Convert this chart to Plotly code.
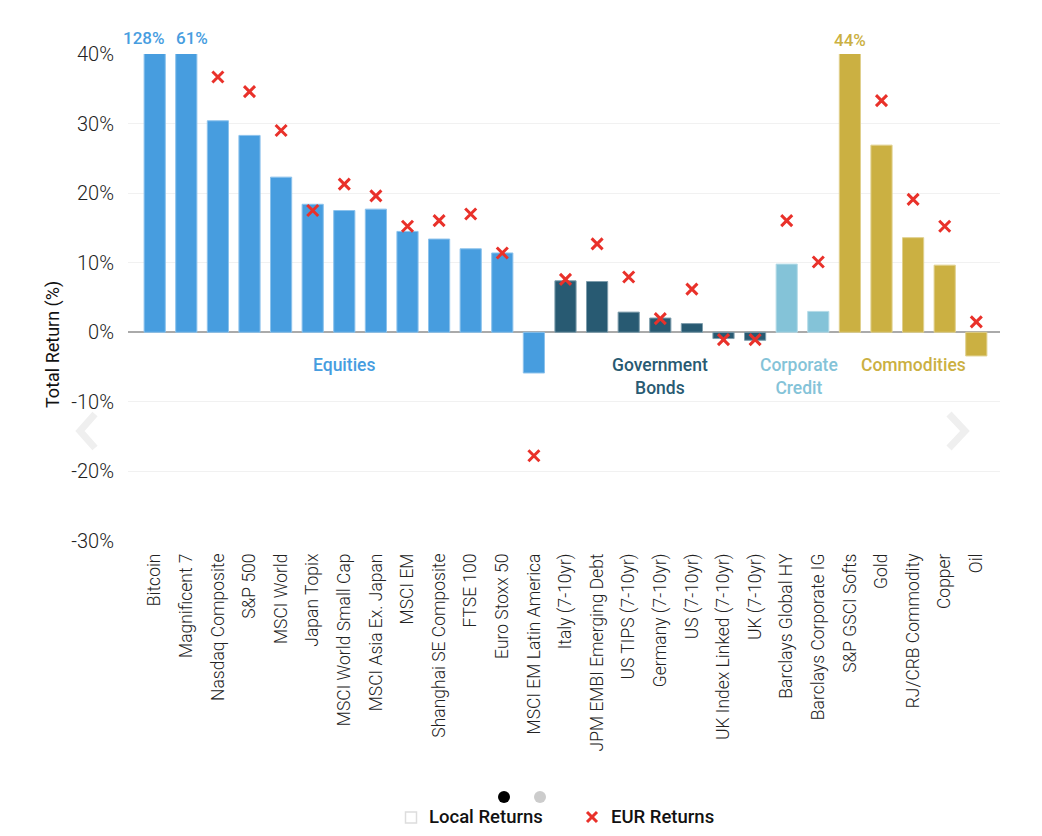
import plotly.graph_objects as go

categories = ["Bitcoin", "Magnificent 7", "Nasdaq Composite", "S&P 500", "MSCI World", "Japan Topix",
              "MSCI World Small Cap", "MSCI Asia Ex. Japan", "MSCI EM", "Shanghai SE Composite", "FTSE 100",
              "Euro Stoxx 50", "MSCI EM Latin America", "Italy (7-10yr)", "JPM EMBI Emerging Debt",
              "US TIPS (7-10yr)", "Germany (7-10yr)", "US (7-10yr)", "UK Index Linked (7-10yr)", "UK (7-10yr)",
              "Barclays Global HY", "Barclays Corporate IG", "S&P GSCI Softs", "Gold", "RJ/CRB Commodity",
              "Copper", "Oil"]
local_returns = [128, 61, 30.4, 28.3, 22.3, 18.4, 17.5, 17.7, 14.5, 13.4, 12.0, 11.4, -5.85,
                 7.4, 7.3, 2.9, 2.05, 1.25, -0.9, -1.15, 9.8, 3.0, 44, 26.9, 13.6, 9.65, -3.4]
eur_returns = [None, None, 36.7, 34.6, 29.0, 17.5, 21.3, 19.6, 15.25, 16.05, 17.0, 11.4, -17.75,
               7.6, 12.7, 7.95, 1.97, 6.2, -1.05, -1.05, 16.05, 10.1, None, 33.3, 19.1, 15.25, 1.5]
groups = ["eq"] * 13 + ["gov"] * 7 + ["corp"] * 2 + ["com"] * 5
group_colors = {"eq": "#479ddf", "gov": "#285a72", "corp": "#84c3d8", "com": "#cbb042"}
group_borders = {"eq": "#8cc2ec", "gov": "#7e9dac", "corp": "#b5dbe7", "com": "#e0d08e"}
y_ticks = [-30, -20, -10, 0, 10, 20, 30, 40]
y_tick_labels = ["-30%", "-20%", "-10%", "0%", "10%", "20%", "30%", "40%"]
overflow_shift = {0: -11, 1: 6, 22: 0}
overflow_lift = {0: 4, 1: 4, 22: 2}

FONT = "Roboto, sans-serif"
L, R, T, B = 128, 1000, 54, 541
W, H = 1042, 836
px = lambda x: (x - L) / (R - L)
py = lambda y: (B - y) / (B - T)

fig = go.Figure()
fig.add_bar(x=categories, y=local_returns, width=0.67, showlegend=False, hoverinfo="x+y",
            marker=dict(color=[group_colors[g] for g in groups],
                        line=dict(color=[group_borders[g] for g in groups], width=1)))
fig.add_scatter(x=categories, y=eur_returns, mode="markers", name="EUR Returns", showlegend=False,
                marker=dict(symbol="x-thin", size=11, line=dict(color="#e9312a", width=3), color="#e9312a"))

annotations = []
for i, v in enumerate(local_returns):
    if v > 40:
        annotations.append(dict(x=categories[i], y=40, text=f"{v}%", showarrow=False, yanchor="bottom",
                                yshift=overflow_lift[i], xshift=overflow_shift[i],
                                font=dict(family=FONT, size=17, color=group_colors[groups[i]], weight=500)))
for xv, lbl, g in [(6, "Equities", "eq"), (16, "Government<br>Bonds", "gov"),
                   (20.4, "Corporate<br>Credit", "corp"), (24, "Commodities", "com")]:
    annotations.append(dict(x=xv, y=-3.0, text=lbl, showarrow=False, yanchor="top", xanchor="center", align="center",
                            font=dict(family=FONT, size=17.5, color=group_colors[g], weight=500)))
annotations.append(dict(xref="paper", yref="paper", x=px(53), y=py(345), text="Total Return (%)", textangle=-90,
                        showarrow=False, xanchor="center", yanchor="middle",
                        font=dict(family=FONT, size=18, color="#111")))
annotations.append(dict(xref="paper", yref="paper", x=px(426.5), y=py(817), text="Local Returns", xanchor="left",
                        yanchor="middle", showarrow=False,
                        font=dict(family=FONT, size=18.5, color="#111", weight=500)))
annotations.append(dict(xref="paper", yref="paper", x=px(608.5), y=py(817), text="EUR Returns", xanchor="left",
                        yanchor="middle", showarrow=False,
                        font=dict(family=FONT, size=18.5, color="#111", weight=500)))


def chevron(x0, x1, ym=431, dy=17):
    return dict(type="path", xref="paper", yref="paper",
                path=f"M {px(x0)} {py(ym - dy)} L {px(x1)} {py(ym)} L {px(x0)} {py(ym + dy)}",
                line=dict(color="#efefef", width=7))


def circle(cx, cy, r, color):
    return dict(type="circle", xref="paper", yref="paper", x0=px(cx - r), x1=px(cx + r), y0=py(cy + r), y1=py(cy - r),
                fillcolor=color, line=dict(width=0))


def stroke(x0, y0, x1, y1):
    return dict(type="line", xref="paper", yref="paper", x0=px(x0), x1=px(x1), y0=py(y0), y1=py(y1),
                line=dict(color="#e9312a", width=3))


shapes = [chevron(95, 80), chevron(949, 965),
          circle(504, 797, 6, "#000000"), circle(540, 797, 6, "#cccccc"),
          dict(type="rect", xref="paper", yref="paper", x0=px(405.5), x1=px(416.5), y0=py(823), y1=py(812),
               line=dict(color="#dddddd", width=1.5), fillcolor="white"),
          stroke(587, 812, 597, 822), stroke(587, 822, 597, 812)]

step = 31.6
c0 = 154.7
fig.update_layout(
    width=W, height=H, margin=dict(l=L, r=W - R, t=T, b=H - B, autoexpand=False),
    paper_bgcolor="white", plot_bgcolor="white", showlegend=False, bargap=0.33,
    annotations=annotations, shapes=shapes,
    xaxis=dict(type="category", range=[(L - c0) / step, (R - c0) / step], tickangle=-90, showgrid=False,
               ticks="", tickfont=dict(family=FONT, size=17.5, color="#222", weight=300), ticklabelstandoff=8,
               showline=False, zeroline=False, automargin=False),
    yaxis=dict(range=[-30, 40], tickmode="array", tickvals=y_ticks, ticktext=y_tick_labels,
               gridcolor="#f1f1f1", gridwidth=1,
               zeroline=True, zerolinecolor="#aaaaaa", zerolinewidth=2, showline=False, ticks="",
               tickfont=dict(family=FONT, size=20, color="#222", weight=300), automargin=False, ticklabelstandoff=13),
)
fig.write_html("out.html", config={"displayModeBar": False}, post_script="document.body.style.margin='0';")
